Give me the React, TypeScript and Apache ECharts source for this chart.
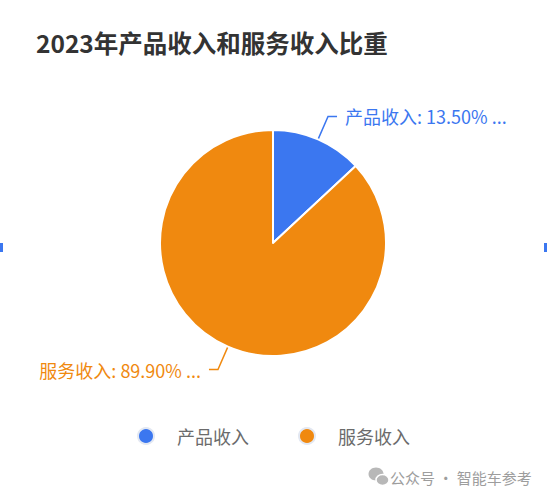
import * as echarts from 'echarts';
import type { ECharts, EChartsOption } from 'echarts';
import React, { useEffect, useRef } from 'react';

const categories = ['产品收入', '服务收入'];
const shares = [13.5, 89.9];
const colors = ['#3b77f0', '#f0890f'];
const titleText = '2023年产品收入和服务收入比重';
const watermark = '公众号 · 智能车参考';

const FONT = '"Noto Sans CJK SC", "Noto Sans", sans-serif';

const App: React.FC = () => {
  const chartRef = useRef<HTMLDivElement>(null);
  const chartInstance = useRef<ECharts | null>(null);

  useEffect(() => {
    document.body.style.margin = '0';
    if (chartRef.current) {
      chartInstance.current = echarts.init(chartRef.current, undefined, { renderer: 'svg' });

      const option: EChartsOption = {
        animation: false,
        backgroundColor: '#fff',
        textStyle: { fontFamily: FONT },
        title: {
          text: titleText,
          left: 31,
          top: 25,
          textStyle: { fontSize: 24.5, fontWeight: 'bold', color: '#333', fontFamily: FONT }
        },
        legend: {
          bottom: 48,
          left: 'center',
          icon: 'circle',
          itemWidth: 20,
          itemHeight: 16,
          itemGap: 49,
          itemStyle: { borderColor: '#e3e8f2', borderWidth: 2 },
          textStyle: { fontSize: 18, color: '#6b6b6b', padding: [0, 0, 0, 16], fontFamily: FONT },
          data: categories
        },
        series: [{
          type: 'pie',
          center: [273, 243],
          radius: 113,
          startAngle: 90,
          itemStyle: { borderColor: '#fff', borderWidth: 2 },
          label: {
            show: true,
            position: 'outside',
            fontSize: 18,
            fontFamily: FONT,
            distanceToLabelLine: 8,
            formatter: (p: any) => `${p.name}: ${Number(p.value).toFixed(2)}% ...`
          },
          labelLine: { show: true, length: 25, length2: 9, lineStyle: { width: 1.5 } },
          data: categories.map((name, i) => ({
            name,
            value: shares[i],
            itemStyle: { color: colors[i] },
            label: { color: colors[i] }
          }))
        }],
        graphic: [
          { type: 'rect', left: 0, top: 243, shape: { width: 3, height: 9 }, style: { fill: '#3b77f0' } },
          { type: 'rect', right: 0, top: 243, shape: { width: 3, height: 9 }, style: { fill: '#3b77f0' } },
          { type: 'ellipse', shape: { cx: 376, cy: 474, rx: 7.5, ry: 6.5 }, style: { fill: '#b8b8b8' } },
          { type: 'ellipse', shape: { cx: 382.5, cy: 480, rx: 6.5, ry: 5.5 }, style: { fill: '#b8b8b8', stroke: '#fff', lineWidth: 1.5 } },
          {
            type: 'text',
            x: 390,
            y: 477,
            style: { text: watermark, fontSize: 15, fill: '#9d9d9d', fontFamily: FONT, verticalAlign: 'middle' }
          }
        ]
      };

      chartInstance.current.setOption(option);
    }

    return () => {
      if (chartInstance.current) {
        chartInstance.current.dispose();
        chartInstance.current = null;
      }
    };
  }, []);

  return <div ref={chartRef} style={{ width: '547px', height: '498px' }} />;
};

export default App;
